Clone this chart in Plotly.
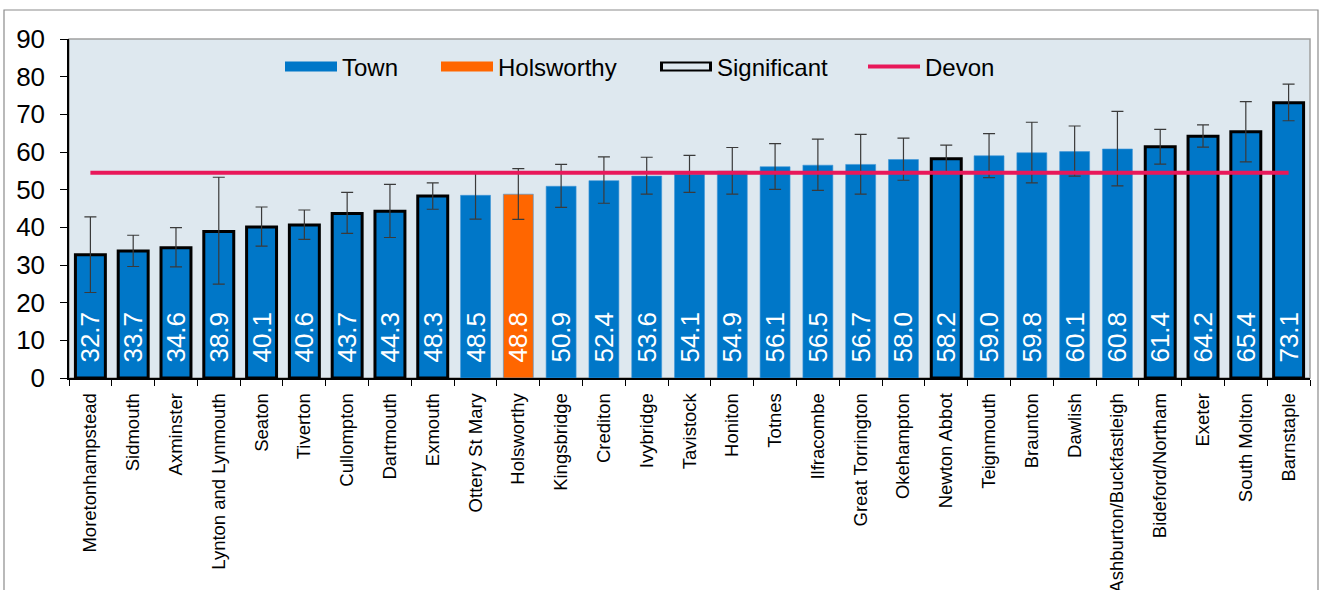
import plotly.graph_objects as go

towns = ["Moretonhampstead", "Sidmouth", "Axminster", "Lynton and Lynmouth", "Seaton", "Tiverton",
         "Cullompton", "Dartmouth", "Exmouth", "Ottery St Mary", "Holsworthy", "Kingsbridge",
         "Crediton", "Ivybridge", "Tavistock", "Honiton", "Totnes", "Ilfracombe", "Great Torrington",
         "Okehampton", "Newton Abbot", "Teignmouth", "Braunton", "Dawlish", "Ashburton/Buckfastleigh",
         "Bideford/Northam", "Exeter", "South Molton", "Barnstaple"]
values = [32.7, 33.7, 34.6, 38.9, 40.1, 40.6, 43.7, 44.3, 48.3, 48.5, 48.8, 50.9, 52.4, 53.6, 54.1,
          54.9, 56.1, 56.5, 56.7, 58.0, 58.2, 59.0, 59.8, 60.1, 60.8, 61.4, 64.2, 65.4, 73.1]
upper_ci = [42.8, 37.9, 39.9, 53.3, 45.4, 44.6, 49.3, 51.4, 51.8, 54.7, 55.6, 56.7, 58.7, 58.6, 59.1,
            61.2, 62.2, 63.4, 64.7, 63.7, 61.8, 64.9, 67.9, 66.9, 70.8, 66.0, 67.2, 73.4, 78.0]
lower_ci = [22.7, 29.6, 29.5, 24.9, 35.0, 36.8, 38.4, 37.3, 44.8, 42.2, 42.1, 45.3, 46.4, 48.8, 49.3,
            48.8, 50.1, 49.8, 48.8, 52.5, 54.6, 53.2, 51.8, 53.6, 51.0, 56.8, 61.3, 57.4, 68.3]
significant = [True] * 9 + [False] * 11 + [True] + [False] * 4 + [True] * 4
highlight = "Holsworthy"
devon = 54.5

BLUE = "#0077C8"
ORANGE = "#FF6600"
RED = "#E8185A"
BG = "#DEE8EF"
FONT = "Liberation Sans, Arial, sans-serif"

n = len(towns)
colors = [ORANGE if t == highlight else BLUE for t in towns]
line_colors = ["black" if s else "#3F95D6" for s in significant]
line_widths = [3 if s else 0.6 for s in significant]
labels = ["\u00a0\u2009" + f"{v:.1f}" for v in values]

fig = go.Figure()
fig.add_trace(go.Bar(
    x=towns, y=values, marker=dict(color=colors, line=dict(color=line_colors, width=line_widths)),
    error_y=dict(type="data", symmetric=False,
                 array=[u - v for u, v in zip(upper_ci, values)],
                 arrayminus=[v - l for v, l in zip(values, lower_ci)],
                 color="#3A3A3A", thickness=1.2, width=6),
    text=labels, textposition="inside", insidetextanchor="start", textangle=-90, constraintext="none",
    textfont=dict(color="white", size=26, family=FONT), showlegend=False, cliponaxis=False,
))
fig.add_trace(go.Scatter(x=towns, y=[devon] * n, mode="lines", line=dict(color=RED, width=4),
                         name="Devon", legend="legend4", hoverinfo="skip"))
fig.add_trace(go.Scatter(x=[None], y=[None], mode="lines", line=dict(color=BLUE, width=12),
                         name="Town", legend="legend"))
fig.add_trace(go.Scatter(x=[None], y=[None], mode="lines", line=dict(color=ORANGE, width=12),
                         name="Holsworthy", legend="legend2"))
fig.add_trace(go.Scatter(x=[None], y=[None], mode="lines", line=dict(color="black", width=12),
                         name="Significant", legend="legend3"))
fig.add_trace(go.Scatter(x=[None], y=[None], mode="lines", line=dict(color=BG, width=6),
                         name=" ", legend="legend5"))

L, R, T, B = 69, 12, 39, 212
W, H = 1322, 590
pw, ph = W - L - R, H - T - B


def px_x(x):
    return (x - L) / pw


def px_y(y):
    return (H - B - y) / ph


leg_common = dict(orientation="h", yanchor="middle", xanchor="left", bgcolor="rgba(0,0,0,0)",
                  font=dict(size=24, family=FONT, color="black"), itemwidth=52, borderwidth=0)
fig.update_layout(
    width=W, height=H, margin=dict(l=L, r=R, t=T, b=B, pad=0, autoexpand=False),
    paper_bgcolor="white", plot_bgcolor=BG, bargap=0.3,
    font=dict(family=FONT, color="black"),
    legend=dict(x=px_x(280), y=px_y(67), **leg_common),
    legend2=dict(x=px_x(436), y=px_y(67), **leg_common),
    legend3=dict(x=px_x(655), y=px_y(67), **leg_common),
    legend4=dict(x=px_x(863), y=px_y(67), **leg_common),
    legend5=dict(x=px_x(658), y=px_y(67), **{**leg_common, "itemwidth": 46}),
    xaxis=dict(tickangle=-90, tickson="boundaries", ticks="outside", ticklen=6, tickcolor="black",
               showline=True, linecolor="black", linewidth=1.5, tickfont=dict(size=18.5, family=FONT),
               showgrid=False, ticklabelstandoff=6, automargin=False),
    yaxis=dict(range=[0, 90], dtick=10, ticks="outside", ticklen=7, tickcolor="black",
               showline=True, linecolor="black", linewidth=1.5, tickfont=dict(size=26, family=FONT),
               showgrid=False, zeroline=False, ticklabelstandoff=10, automargin=False),
    shapes=[
        dict(type="rect", xref="paper", yref="paper", x0=0, x1=1, y0=0, y1=1,
             line=dict(color="#A0A0A0", width=1.5), layer="below"),
        dict(type="rect", xref="paper", yref="paper", x0=px_x(4), x1=px_x(1318), y0=px_y(620), y1=px_y(10),
             line=dict(color="#8C8C8C", width=1.2), layer="below"),
    ],
)

fig.write_html("out.html", config={"displayModeBar": False},
               post_script="document.body.style.margin='0';")
